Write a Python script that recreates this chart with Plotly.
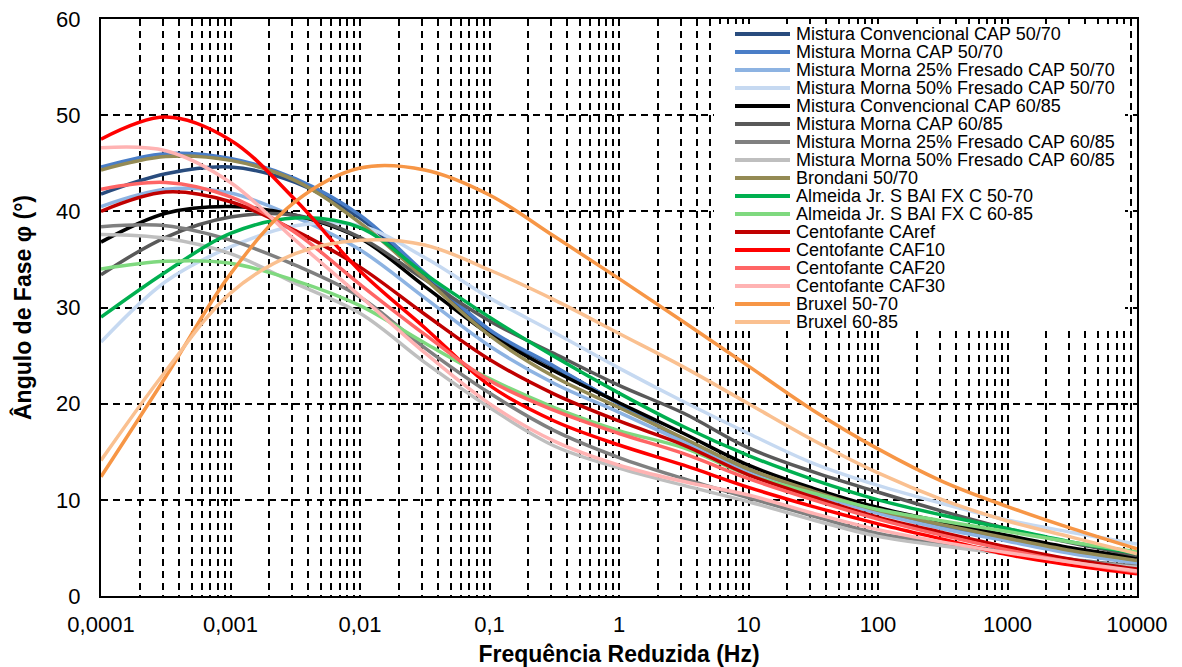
import plotly.graph_objects as go

# ---------------- data ----------------
freq = [1e-4, 3.162e-4, 1e-3, 3.162e-3, 1e-2, 3.162e-2, 0.1, 0.3162, 1,
        3.162, 10, 31.62, 100, 316.2, 1000, 3162, 10000]

conv_5070 = [41.8, 43.9, 44.6, 43.0, 39.3, 33.4, 27.5, 23.8, 20.0, 16.3, 13.2, 10.7, 8.8, 7.2, 5.9, 4.6, 3.5]
morna_5070 = [44.6, 46.0, 45.5, 43.4, 39.6, 33.6, 27.7, 23.9, 20.0, 16.2, 13.1, 10.8, 8.8, 7.2, 5.9, 4.6, 3.5]
morna25_5070 = [40.5, 42.3, 41.9, 39.4, 36.0, 31.0, 26.0, 22.1, 19.1, 16.0, 12.8, 10.6, 8.6, 7.0, 5.7, 4.4, 3.4]
morna50_5070 = [26.4, 32.7, 36.3, 38.5, 38.5, 35.2, 31.0, 27.4, 23.7, 20.2, 16.9, 13.8, 11.5, 9.6, 7.9, 6.6, 5.4]
conv_6085 = [36.8, 39.8, 40.5, 39.6, 37.2, 32.2, 27.2, 23.4, 20.1, 16.9, 13.6, 11.2, 9.2, 7.7, 6.3, 5.0, 4.0]
morna_6085 = [33.4, 37.3, 39.4, 39.6, 37.3, 32.9, 28.6, 25.2, 21.9, 19.0, 15.4, 12.9, 10.8, 8.8, 7.0, 5.5, 4.2]
morna25_6085 = [38.4, 38.5, 37.0, 34.4, 31.1, 25.8, 21.1, 17.2, 14.4, 12.2, 10.2, 8.3, 6.5, 5.5, 4.6, 3.8, 3.1]
morna50_6085 = [37.6, 37.2, 35.6, 32.5, 29.4, 24.3, 19.6, 15.6, 13.3, 11.5, 9.8, 7.9, 6.2, 5.2, 4.4, 3.6, 3.0]
brondani = [44.3, 45.7, 45.3, 43.2, 38.8, 33.0, 27.1, 22.8, 19.6, 16.4, 13.2, 10.9, 8.9, 7.4, 6.0, 4.7, 3.7]
almeida_5070 = [29.0, 33.7, 37.7, 39.3, 38.3, 33.5, 29.0, 24.9, 21.1, 17.6, 14.6, 12.1, 10.0, 8.4, 7.0, 5.6, 4.4]
almeida_6085 = [34.0, 34.8, 34.6, 32.8, 30.2, 26.3, 22.6, 19.6, 17.2, 15.4, 12.6, 10.7, 9.0, 7.8, 6.7, 5.6, 4.6]
caref = [40.0, 42.0, 41.0, 38.0, 34.2, 29.3, 24.6, 21.0, 18.2, 15.7, 12.6, 10.3, 8.2, 6.6, 5.1, 3.8, 2.8]
caf10 = [47.5, 49.8, 47.4, 41.2, 33.8, 27.9, 21.9, 18.2, 15.7, 13.6, 11.3, 9.3, 7.5, 5.9, 4.3, 3.2, 2.3]
caf20 = [42.3, 43.0, 41.5, 37.8, 32.4, 27.2, 22.4, 19.3, 16.9, 14.8, 12.2, 10.0, 8.0, 6.3, 4.8, 3.5, 2.5]
caf30 = [46.6, 46.3, 43.0, 37.0, 31.2, 25.3, 20.0, 16.1, 13.6, 11.9, 10.5, 8.6, 6.9, 5.6, 4.5, 3.5, 2.6]
bruxel_5070 = [12.4, 22.8, 33.5, 41.0, 44.5, 44.3, 41.7, 37.4, 33.0, 28.5, 23.9, 19.3, 15.3, 11.9, 9.3, 7.0, 4.9]
bruxel_6085 = [14.1, 23.4, 31.5, 35.6, 37.0, 36.5, 33.9, 30.8, 27.3, 23.8, 20.0, 16.2, 12.8, 10.0, 7.8, 6.1, 4.4]

series_names = [
    "Mistura Convencional CAP 50/70",
    "Mistura Morna CAP 50/70",
    "Mistura Morna 25% Fresado CAP 50/70",
    "Mistura Morna 50% Fresado CAP 50/70",
    "Mistura Convencional CAP 60/85",
    "Mistura Morna CAP 60/85",
    "Mistura Morna 25% Fresado CAP 60/85",
    "Mistura Morna 50% Fresado CAP 60/85",
    "Brondani 50/70",
    "Almeida Jr. S BAI FX C 50-70",
    "Almeida Jr. S BAI FX C 60-85",
    "Centofante CAref",
    "Centofante CAF10",
    "Centofante CAF20",
    "Centofante CAF30",
    "Bruxel 50-70",
    "Bruxel 60-85",
]
series_values = [conv_5070, morna_5070, morna25_5070, morna50_5070,
                 conv_6085, morna_6085, morna25_6085, morna50_6085,
                 brondani, almeida_5070, almeida_6085,
                 caref, caf10, caf20, caf30, bruxel_5070, bruxel_6085]
series_colors = ["#294C7E", "#4A7EC7", "#8DB3E2", "#C6D9F1",
                 "#000000", "#595959", "#808080", "#BFBFBF",
                 "#948A54", "#00B050", "#7FD97F",
                 "#C00000", "#FF0000", "#FF6565", "#FFB3B3",
                 "#F79646", "#FAC090"]

x_tickvals = [1e-4, 1e-3, 1e-2, 1e-1, 1, 10, 100, 1000, 10000]
x_ticktext = ["0,0001", "0,001", "0,01", "0,1", "1", "10", "100", "1000", "10000"]
y_tickvals = [0, 10, 20, 30, 40, 50, 60]

FONT = "Arial, Liberation Sans, sans-serif"
GRID_DASH = "7px,5px"

# ---------------- figure ----------------
fig = go.Figure()
for name, vals, col in zip(series_names, series_values, series_colors):
    fig.add_trace(go.Scatter(
        x=freq, y=vals, mode="lines", name=name, showlegend=False,
        line=dict(color=col, width=3.5, shape="spline", smoothing=1.0),
    ))

minor_vals = [m * d for d in x_tickvals[:-1] for m in range(2, 10)]

fig.update_xaxes(
    type="log", range=[-4, 4],
    tickmode="array", tickvals=x_tickvals, ticktext=x_ticktext,
    tickfont=dict(family=FONT, size=22, color="black"),
    ticks="", ticklabelstandoff=8, ticklabeloverflow="allow",
    showgrid=True, gridcolor="black", gridwidth=1.8, griddash=GRID_DASH,
    minor=dict(tickmode="array", tickvals=minor_vals, showgrid=True,
               gridcolor="black", gridwidth=1.8, griddash=GRID_DASH, ticks=""),
    showline=True, linecolor="black", linewidth=2, mirror=True,
    zeroline=False, automargin=False,
    title=dict(text="<b>Frequência Reduzida (Hz)</b>",
               font=dict(family=FONT, size=23, color="black"), standoff=9),
)
fig.update_yaxes(
    range=[0, 60], tickmode="array", tickvals=y_tickvals,
    tickfont=dict(family=FONT, size=22, color="black"),
    ticks="", ticklabelstandoff=14, ticklabeloverflow="allow",
    showgrid=True, gridcolor="black", gridwidth=1.8, griddash=GRID_DASH,
    showline=True, linecolor="black", linewidth=2, mirror=True,
    zeroline=False, automargin=False,
    title=dict(text="<b>Ângulo de Fase φ (°)</b>",
               font=dict(family=FONT, size=23, color="black"), standoff=18),
)

# page offset (default body margin of the html page)
OFF = 8
FIG_W, FIG_H = 1182 - OFF, 667 - OFF
# plot area in page pixels: x 101..1137, y 19..596
PL, PR, PT, PB = 101 - OFF, 1137 - OFF, 19 - OFF, 596 - OFF
W, H = PR - PL, PB - PT


def px2paper_x(px):
    return (px - OFF - PL) / W


def px2paper_y(py):
    return 1 - (py - OFF - PT) / H


# legend (drawn manually to keep Excel-like compact spacing)
fig.add_shape(type="rect", xref="paper", yref="paper",
              x0=px2paper_x(714), x1=px2paper_x(1125),
              y0=px2paper_y(331), y1=px2paper_y(24),
              fillcolor="white", line=dict(width=0), layer="above")
for i, (name, col) in enumerate(zip(series_names, series_colors)):
    yp = px2paper_y(34 + 18 * i)
    fig.add_shape(type="line", xref="paper", yref="paper",
                  x0=px2paper_x(735), x1=px2paper_x(790), y0=yp, y1=yp,
                  line=dict(color=col, width=4), layer="above")
    fig.add_annotation(xref="paper", yref="paper", x=px2paper_x(794), y=yp,
                       text=name, showarrow=False, xanchor="left", yanchor="middle",
                       font=dict(family=FONT, size=18, color="black"))

fig.update_layout(
    width=FIG_W, height=FIG_H,
    margin=dict(l=PL, r=FIG_W - PR, t=PT, b=FIG_H - PB),
    paper_bgcolor="white", plot_bgcolor="white",
    font=dict(family=FONT, color="black"),
    showlegend=False,
)

fig.write_html("out.html")
